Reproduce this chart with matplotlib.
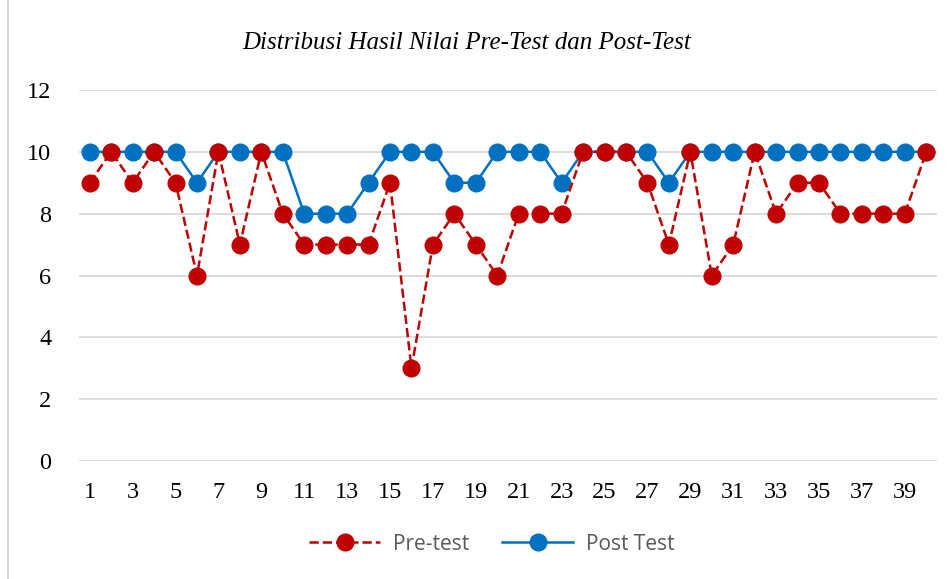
import numpy as np
import matplotlib.pyplot as plt
from matplotlib.lines import Line2D

# %% data
siswa = list(range(1, 41))
pre_test = [9, 10, 9, 10, 9, 6, 10, 7, 10, 8,
            7, 7, 7, 7, 9, 3, 7, 8, 7, 6,
            8, 8, 8, 10, 10, 10, 9, 7, 10, 6,
            7, 10, 8, 9, 9, 8, 8, 8, 8, 10]
post_test = [10, 10, 10, 10, 10, 9, 10, 10, 10, 10,
             8, 8, 8, 9, 10, 10, 10, 9, 9, 10,
             10, 10, 9, 10, 10, 10, 10, 9, 10, 10,
             10, 10, 10, 10, 10, 10, 10, 10, 10, 10]
x_ticks = list(range(1, 41, 2))
y_ticks = [0, 2, 4, 6, 8, 10, 12]

# %% plot
fig = plt.figure(figsize=(9.53, 5.79), dpi=100)
ax = fig.add_axes([79 / 953, 1 - 461 / 579, 858 / 953, 371 / 579])

ax.plot(siswa, pre_test, color='#C00000', linestyle='--', linewidth=1.8,
        marker='o', markersize=12, label='Pre-test', zorder=3)
ax.plot(siswa, post_test, color='#0070C0', linestyle='-', linewidth=1.8,
        marker='o', markersize=12, label='Post Test', zorder=2)

ax.set_xlim(0.5, 40.5)
ax.set_ylim(0, 12)
ax.set_yticks(y_ticks)
ax.set_xticks(x_ticks)
ax.grid(axis='y', color='#D9D9D9', linewidth=1.3)
ax.set_axisbelow(True)
for s in ax.spines.values():
    s.set_visible(False)
ax.tick_params(length=0, labelsize=17.5, pad=15)
ax.tick_params(axis='y', pad=20)
for lbl in ax.get_xticklabels() + ax.get_yticklabels():
    lbl.set_family('Liberation Serif')

fig.text(0.49, 1 - 43 / 579, 'Distribusi Hasil Nilai Pre-Test dan Post-Test',
         ha='center', va='center', family='Liberation Serif', style='italic',
         fontsize=18)

handles = [Line2D([], [], color='#C00000', linestyle='--', linewidth=1.8, marker='o', markersize=12),
           Line2D([], [], color='#0070C0', linestyle='-', linewidth=1.8, marker='o', markersize=12)]
leg = fig.legend(handles, ['Pre-test', 'Post Test'], loc='center', bbox_to_anchor=(0.516, 1 - 544 / 579),
                 ncol=2, frameon=False, handlelength=3.4, columnspacing=1.6, handletextpad=0.6,
                 prop={'family': 'Open Sans', 'size': 15})
for t in leg.get_texts():
    t.set_color('#595959')

# chart border
fig.add_artist(Line2D([8 / 953, 8 / 953], [0, 1], color='#D9D9D9', linewidth=1.5))

fig.savefig('out.png', dpi=100)
